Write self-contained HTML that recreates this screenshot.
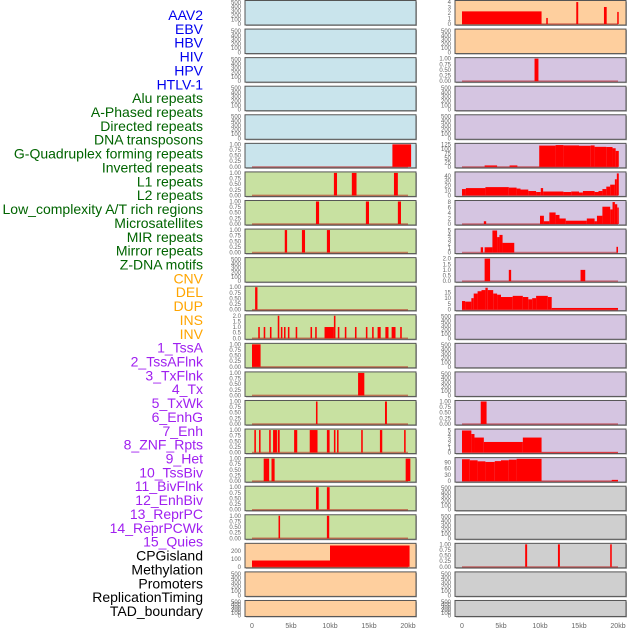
<!DOCTYPE html>
<html><head><meta charset="utf-8">
<style>
html,body{margin:0;padding:0;background:#fff;}
svg{display:block;font-family:"Liberation Sans",sans-serif;}
</style></head>
<body>
<svg id="chart" width="630" height="630" viewBox="0 0 630 630" xmlns="http://www.w3.org/2000/svg"></svg>
<script>
// ---- labels ----
const labelNames = ["AAV2","EBV","HBV","HIV","HPV","HTLV-1","Alu repeats","A-Phased repeats","Directed repeats","DNA transposons","G-Quadruplex forming repeats","Inverted repeats","L1 repeats","L2 repeats","Low_complexity A/T rich regions","Microsatellites","MIR repeats","Mirror repeats","Z-DNA motifs","CNV","DEL","DUP","INS","INV","1_TssA","2_TssAFlnk","3_TxFlnk","4_Tx","5_TxWk","6_EnhG","7_Enh","8_ZNF_Rpts","9_Het","10_TssBiv","11_BivFlnk","12_EnhBiv","13_ReprPC","14_ReprPCWk","15_Quies","CPGisland","Methylation","Promoters","ReplicationTiming","TAD_boundary"];
const labelGroups = ["v","v","v","v","v","v","r","r","r","r","r","r","r","r","r","r","r","r","r","s","s","s","s","s","c","c","c","c","c","c","c","c","c","c","c","c","c","c","c","k","k","k","k","k"];
const xTickLabels = ["0","5kb","10kb","15kb","20kb"];
const xTickValues = [0,5,10,15,20];
const emptyTicks = [0,100,200,300,400,500];
const unitTicks = [0,0.25,0.5,0.75,1];

// ---- series data: [startKb, endKb, value] ----
const htlv1 = [[18,20.4,1]];
const alu = [[10.5,10.9,1],[12.8,13.4,1],[18.2,18.7,1]];
const aphased = [[8.2,8.6,1],[14.6,15.0,1],[18.7,19.1,1]];
const directed = [[4.2,4.5,1],[6.4,6.8,1],[9.6,10.0,1]];
const gquad = [[0.4,0.7,1]];
const inverted = [[0.8,1.0,1],[1.5,1.7,1],[2.3,2.5,1],[3.3,3.5,2],[3.7,3.9,1],[4.1,4.3,1],[4.6,4.8,1],[5.6,5.8,1],[7.5,7.7,1],[8.1,8.3,1],[9.3,10.5,1],[10.5,10.7,2],[11.0,11.2,1],[11.9,12.1,1],[13.2,13.4,1],[14.6,14.8,1],[15.4,15.6,1],[16.1,16.5,1],[17.1,17.5,1],[17.9,18.4,1],[19.0,19.2,1]];
const l1 = [[0,1.1,1]];
const l2 = [[13.6,14.4,1]];
const lowcomp = [[8.2,8.4,1],[17.05,17.3,1]];
const micro = [[0.3,0.5,1],[0.9,1.1,1],[2.2,2.4,1],[2.7,3.2,1],[3.3,3.55,1],[5.4,5.8,1],[7.4,8.4,1],[9.6,9.95,1],[10.5,10.7,1],[10.9,11.1,1],[14.0,14.2,1],[16.4,16.7,1],[19.5,19.7,1]];
const mir = [[1.5,2.2,1],[2.5,2.9,1],[19.7,20.3,1]];
const mirror = [[8.2,8.55,1],[9.6,9.95,1]];
const zdna = [[3.4,3.6,1],[9.6,9.9,1]];
const cnv = [[0,10,80],[10,20.2,270]];
const ins = [[0,10.2,2.3],[10.8,11.0,1.1],[14.65,14.9,4],[18.2,18.55,3.1],[19.9,20.0,2.2]];
const tssa = [[9.3,9.8,1]];
const tx = [[2.9,4.5,8],[6.1,7.1,8],[9.9,12,120],[12,13,123],[13,15,121],[15,16.5,119],[16.5,17,121],[17,18.5,113],[18.5,19.3,112],[19.3,19.7,105],[19.7,20.1,90]];
const txwk = [[0,0.5,13],[0.5,3,15],[3,6,17],[6,7,16],[7,7.5,14],[7.5,8.5,12],[8.5,9.5,9],[9.5,10.1,7],[10.1,10.4,15],[10.4,13,8],[13,14,7],[14,15,8],[15,15.5,6],[15.5,17,9],[17,17.5,7],[17.5,18,9],[18,18.5,13],[18.5,19,18],[19,19.6,22],[19.6,19.85,33],[19.85,20.1,45]];
const enhg = [[2.8,3.1,1],[10,10.5,3],[10.5,11.2,1],[11.2,12,4.2],[12,12.5,3.3],[12.5,13.3,2],[13.3,16,1.2],[16,17,2],[17,17.3,1],[17.3,18,3],[18,19,6.3],[19,19.3,5.3],[19.3,19.6,8],[19.6,19.9,7.2],[19.9,20.1,6]];
const enh = [[2.4,2.7,1.2],[2.9,3.9,1.2],[3.9,4.5,5],[4.5,4.8,3.5],[4.8,5.2,4],[5.2,6.7,2.2],[19.8,20,1.3]];
const znf = [[2.9,3.6,2],[6.0,6.3,1],[15.2,15.8,1]];
const het = [[0,0.4,7.5],[0.4,1.2,7],[1.2,1.5,10],[1.5,2,14],[2,2.5,16],[2.5,3,17],[3,3.3,19],[3.3,4,17],[4,4.5,14],[4.5,5,13],[5,6.5,11],[6.5,7.8,12],[7.8,8.5,11],[8.5,9,9],[9,9.5,10],[9.5,11,12],[11,11.5,11],[11.5,20,1.5]];
const reprpc = [[2.4,3.15,1]];
const reprpcwk = [[0,1.2,5],[1.2,1.6,4.2],[1.6,2.8,3.4],[2.8,7.8,2.4],[7.8,10.2,3.4],[10.2,20,0.1]];
const quies = [[0,1,105],[1,2,100],[2,3,95],[3,4.2,92],[4.2,5,96],[5,6,100],[6,7,103],[7,10.2,107],[10.2,19.2,1],[19.2,20,6]];
const methyl = [[8.1,8.35,1],[12.3,12.55,1],[19.0,19.2,1]];

const colors = {blue:"#c9e4ec",green:"#c8e1a1",orange:"#fecf9e",purple:"#d5c5e1",grey:"#cfcfcf"};
// [name, bg, data, ymax, ticks, fmt]
const leftPanels = [
 ["aav2","blue",null],["ebv","blue",null],["hbv","blue",null],["hiv","blue",null],["hpv","blue",null],
 ["htlv1","blue",htlv1,1,unitTicks,2],
 ["alu","green",alu,1,unitTicks,2],["aphased","green",aphased,1,unitTicks,2],["directed","green",directed,1,unitTicks,2],
 ["dna-transposons","green",null],["gquad","green",gquad,1,unitTicks,2],
 ["inverted","green",inverted,2,[0,0.5,1,1.5,2],1],
 ["l1","green",l1,1,unitTicks,2],["l2","green",l2,1,unitTicks,2],["lowcomp","green",lowcomp,1,unitTicks,2],
 ["micro","green",micro,1,unitTicks,2],["mir","green",mir,1,unitTicks,2],["mirror","green",mirror,1,unitTicks,2],
 ["zdna","green",zdna,1,unitTicks,2],
 ["cnv","orange",cnv,285,[0,100,200],0],["del","orange",null],["dup","orange",null]
];
const rightPanels = [
 ["ins","orange",ins,4.1,[0,1,2,3,4],0],["inv","orange",null],
 ["tssa","purple",tssa,1,unitTicks,2],["tssaflnk","purple",null],["txflnk","purple",null],
 ["tx","purple",tx,127,[0,25,50,75,100,125],0],["txwk","purple",txwk,46,[0,10,20,30,40],0],
 ["enhg","purple",enhg,8.2,[0,2,4,6,8],0],["enh","purple",enh,5.1,[0,1,2,3,4,5],0],
 ["znf","purple",znf,2,[0,0.5,1,1.5,2],1],["het","purple",het,19.5,[0,5,10,15],0],
 ["tssbiv","purple",null],["bivflnk","purple",null],["enhbiv","purple",null],
 ["reprpc","purple",reprpc,1,unitTicks,2],["reprpcwk","purple",reprpcwk,5.1,[0,1,2,3,4,5],0],
 ["quies","purple",quies,108,[0,30,60,90],0],
 ["cpgisland","grey",null],["methylation","grey",null],["promoters","grey",methyl,1,unitTicks,2],
 ["replication-timing","grey",null],["tad-boundary","grey",null]
];

const NS="http://www.w3.org/2000/svg";
const svg=document.getElementById("chart");
function mk(tag,attrs,parent){const e=document.createElementNS(NS,tag);for(const k in attrs)e.setAttribute(k,attrs[k]);(parent||svg).appendChild(e);return e;}

const groupColor={v:"#0000ee",r:"#006400",s:"#ffa500",c:"#a020f0",k:"#000"};
labelNames.forEach((n,i)=>{
  const t=mk("text",{x:203,y:15+i*13.86+5,"text-anchor":"end","font-size":"14",fill:groupColor[labelGroups[i]]});
  
  
  t.textContent=n;
});

function xScale(colX0,kb){return colX0+7.8*kb;}
function drawColumn(panels,left,zeroX){
  const w=171;
  panels.forEach((p,i)=>{
    const top=i*28.57+0.5;
    const h=(i===21)?16:24.5;
    const g=mk("g",{});
    
    
    mk("rect",{x:left+1,y:top+1,width:w,height:h,fill:"#aaa"},g);
    const bg=mk("rect",{x:left,y:top,width:w,height:h,fill:colors[p[1]],stroke:"#555","stroke-width":1},g);
    
    
    const data=p[2];
    const ymax=data?p[3]:520;
    const ticks=data?p[4]:emptyTicks;
    const fmt=data?p[5]:0;
    const yS=v=>top+h-1-(v/ymax)*(h-2);
    ticks.forEach(tv=>{
      const tt=mk("text",{x:left-4,y:yS(tv)+2,"text-anchor":"end","font-size":"6",fill:"#666"},g);
      
      
      tt.textContent=tv.toFixed(fmt);
    });
    if(data){
      const bl=mk("line",{x1:xScale(zeroX,0),x2:xScale(zeroX,20),y1:yS(0),y2:yS(0),stroke:"rgba(180,0,0,0.45)","stroke-width":1.5},g);
      
      
      data.forEach(d=>{
        const x0=xScale(zeroX,d[0]),x1=xScale(zeroX,d[1]);
        const r=mk("rect",{x:x0,y:yS(d[2]),width:Math.max(1.5,x1-x0),height:yS(0)-yS(d[2]),fill:"#ff0000"},g);
        
        
      });
    }
  });
  xTickValues.forEach((v,j)=>{
    const t=mk("text",{x:xScale(zeroX,v),y:628,"text-anchor":"middle","font-size":"7",fill:"#666"});
    
    
    t.textContent=xTickLabels[j];
  });
}
drawColumn(leftPanels,245,252);
drawColumn(rightPanels,455,462);
</script>
</body></html>
